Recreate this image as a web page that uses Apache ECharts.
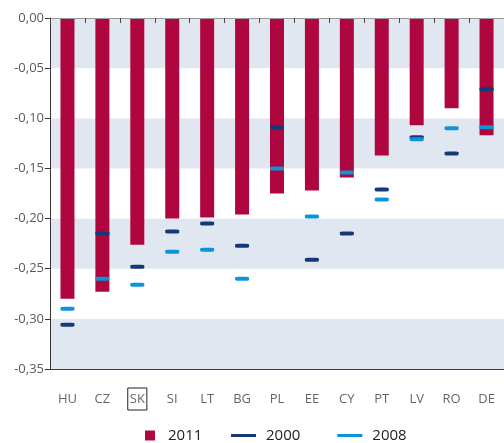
<!DOCTYPE html>
<html>
<head>
<meta charset="utf-8">
<script src="https://cdn.jsdelivr.net/npm/echarts@6/dist/echarts.min.js"></script>
<style>
html,body{margin:0;padding:0;background:#fff;}
#c{width:504px;height:443px;}
</style>
</head>
<body>
<div id="c"></div>
<script>
var categories = ['HU','CZ','SK','SI','LT','BG','PL','EE','CY','PT','LV','RO','DE'];
var values2011 = [-0.280,-0.273,-0.226,-0.200,-0.199,-0.196,-0.175,-0.172,-0.159,-0.137,-0.107,-0.090,-0.117];
var values2000 = [-0.306,-0.215,-0.248,-0.213,-0.205,-0.227,-0.109,-0.241,-0.215,-0.171,-0.119,-0.135,-0.071];
var values2008 = [-0.290,-0.260,-0.266,-0.233,-0.231,-0.260,-0.150,-0.198,-0.154,-0.181,-0.121,-0.110,-0.109];
var highlighted = 'SK';

var FONT = 'Open Sans';
var chart = echarts.init(document.getElementById('c'), null, {renderer:'canvas'});
chart.setOption({
  animation: false,
  grid: {left: 50, top: 18, width: 465, height: 351},
  legend: [
    {data: [{name:'2011', icon:'rect'}], left: 140, top: 423, itemWidth: 10, itemHeight: 10,
     textStyle: {fontFamily: FONT, fontSize: 15, color: '#222', padding: [0,0,0,8]}},
    {data: [{name:'2000', icon:'rect'}, {name:'2008', icon:'rect'}], left: 226, top: 423, itemWidth: 25, itemHeight: 3, itemGap: 37,
     textStyle: {fontFamily: FONT, fontSize: 15, color: '#222', padding: [0,0,0,5]}}
  ],
  xAxis: [
    {type: 'category', data: categories, position: 'bottom', z: 5,
     axisLine: {onZero: false, lineStyle: {color: '#3a3a3a', width: 1}},
     axisTick: {show: false},
     axisLabel: {interval: 0, margin: 19, fontFamily: FONT, fontSize: 13, color: '#666',
       formatter: function(v){ return v === highlighted ? '{b|' + v + '}' : '{n|' + v + '}'; },
       rich: {
         b: {fontFamily: FONT, fontSize: 13, color: '#666', borderColor: '#222', borderWidth: 1, padding: [5,2,4,2]},
         n: {fontFamily: FONT, fontSize: 13, color: '#666', padding: [5,2,4,2]}
       }}},
    {type: 'category', data: categories, position: 'top', z: 5, zlevel: 1, boundaryGap: true,
     axisLine: {show: true, onZero: false, lineStyle: {color: '#9a9a9a', width: 1}},
     axisTick: {show: true, interval: 0, inside: true, length: 5, lineStyle: {color: '#444', width: 1}},
     axisLabel: {show: false, interval: 0}}
  ],
  yAxis: {
    type: 'value', min: -0.35, max: 0, interval: 0.05, z: 0,
    axisLine: {show: true, lineStyle: {color: '#333'}},
    axisTick: {show: true, length: 5, lineStyle: {color: '#333'}},
    axisLabel: {fontFamily: FONT, fontSize: 13, color: '#5a5a5a', margin: 6,
      formatter: function(v){ if (Math.abs(v) < 1e-9) return '0,00'; return v.toFixed(2).replace('.', ','); }},
    splitLine: {show: false},
    splitArea: {show: true, areaStyle: {color: ['#e1e7f1', '#ffffff']}}
  },
  series: [
    {name: '2011', type: 'bar', data: values2011, barWidth: 14, itemStyle: {color: '#b0063f'}, xAxisIndex: 0},
    {name: '2000', type: 'scatter', data: values2000, symbol: 'roundRect', symbolSize: [14,4], itemStyle: {color: '#163778', opacity: 1}, xAxisIndex: 0, z: 3},
    {name: '2008', type: 'scatter', data: values2008, symbol: 'roundRect', symbolSize: [14,4], itemStyle: {color: '#0b95d8', opacity: 1}, xAxisIndex: 1, z: 4}
  ]
});
</script>
</body>
</html>
